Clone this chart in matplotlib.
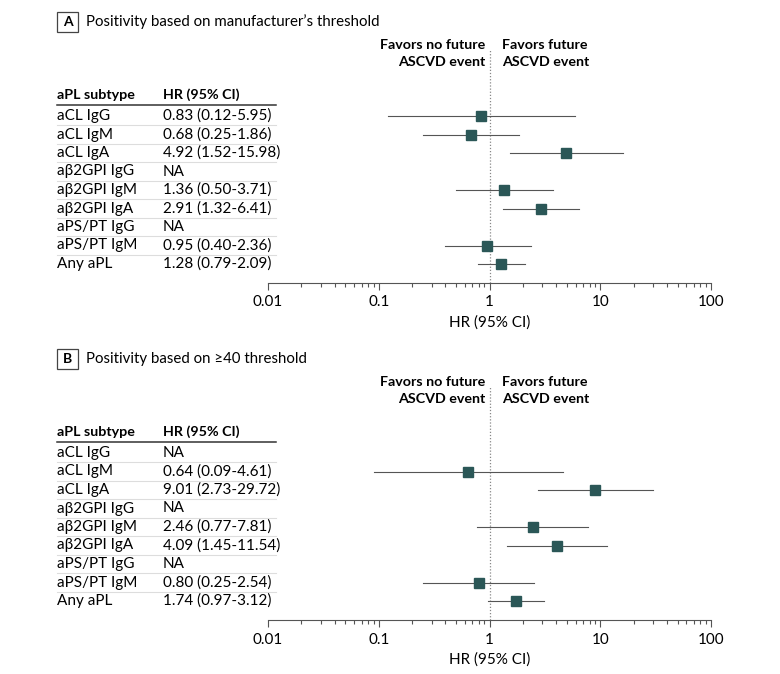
import matplotlib
matplotlib.use("Agg")
import matplotlib.pyplot as plt
import matplotlib.transforms as mtransforms
from matplotlib.patches import Rectangle
import numpy as np

plt.rcParams['font.family'] = ['Lato', 'DejaVu Sans']

subtypes = ["aCL IgG", "aCL IgM", "aCL IgA", "aβ2GPI IgG", "aβ2GPI IgM",
            "aβ2GPI IgA", "aPS/PT IgG", "aPS/PT IgM", "Any aPL"]

# panel A: manufacturer's threshold
hr_a = [0.83, 0.68, 4.92, None, 1.36, 2.91, None, 0.95, 1.28]
lo_a = [0.12, 0.25, 1.52, None, 0.50, 1.32, None, 0.40, 0.79]
hi_a = [5.95, 1.86, 15.98, None, 3.71, 6.41, None, 2.36, 2.09]

# panel B: >=40 threshold
hr_b = [None, 0.64, 9.01, None, 2.46, 4.09, None, 0.80, 1.74]
lo_b = [None, 0.09, 2.73, None, 0.77, 1.45, None, 0.25, 0.97]
hi_b = [None, 4.61, 29.72, None, 7.81, 11.54, None, 2.54, 3.12]

titles = ["Positivity based on manufacturer’s threshold",
          "Positivity based on ≥40 threshold"]
letters = ["A", "B"]

W, H = 780, 674
fig = plt.figure(figsize=(7.8, 6.74), dpi=100)

marker_col = "#2b5757"
line_col = "#555555"
row_px = 18.5
fs = 11
fsb = 10.3


def fy(px):
    return 1 - px / H


def panel(offset, letter, title, hr, lo, hi):
    row0 = 116 + offset
    top = 50 + offset
    axis_y = 283 + offset
    n = len(subtypes)
    ax = fig.add_axes([268 / W, fy(axis_y), (711 - 268) / W, (axis_y - top) / H])
    ax.set_xscale("log")
    ax.set_xlim(0.01, 100)
    ax.set_ylim((axis_y - row0) / row_px, (top - row0) / row_px)
    for s in ["top", "left", "right"]:
        ax.spines[s].set_visible(False)
    ax.spines["bottom"].set_color("#555555")
    ax.spines["bottom"].set_linewidth(0.8)
    ax.set_yticks([])
    ax.set_xticks([0.01, 0.1, 1, 10, 100])
    ax.set_xticklabels(["0.01", "0.1", "1", "10", "100"])
    ax.tick_params(axis="x", which="major", length=5, width=0.8, color="#555555",
                   labelsize=fs, pad=4)
    ax.tick_params(axis="x", which="minor", length=3, width=0.8, color="#555555")
    ax.set_xlabel("HR (95% CI)", fontsize=fs, labelpad=4)
    ax.patch.set_visible(False)

    ax.axvline(1, color="#888888", lw=0.9, ls=(0, (1, 1.5)), zorder=1)

    for i in range(n):
        if hr[i] is None:
            continue
        ax.plot([lo[i], hi[i]], [i, i], color=line_col, lw=0.8, zorder=2)
        ax.plot(hr[i], i, marker="s", ms=6.5, color=marker_col, zorder=3)

    # favors labels
    y1 = (45 + offset - row0) / row_px
    y2 = (62 + offset - row0) / row_px
    for x, ha, a, b in [(0.91, "right", "Favors no future", "ASCVD event"),
                        (1.3, "left", "Favors future", "ASCVD event")]:
        ax.text(x, y1, a, ha=ha, va="center", fontsize=fsb, fontweight="bold", clip_on=False)
        ax.text(x, y2, b, ha=ha, va="center", fontsize=fsb, fontweight="bold", clip_on=False)

    # table
    tr = mtransforms.blended_transform_factory(fig.transFigure, ax.transData)
    hdr = (95 + offset - row0) / row_px
    ax.text(57 / W, hdr, "aPL subtype", transform=tr, ha="left", va="center",
            fontsize=fsb, fontweight="bold")
    ax.text(163 / W, hdr, "HR (95% CI)", transform=tr, ha="left", va="center",
            fontsize=fsb, fontweight="bold")
    ax.plot([57 / W, 276 / W], [(104.5 + offset - row0) / row_px] * 2, transform=tr,
            color="#333333", lw=1.1, clip_on=False)
    for i in range(n):
        ax.text(57 / W, i, subtypes[i], transform=tr, ha="left", va="center", fontsize=fs)
        if hr[i] is None:
            lab = "NA"
        else:
            lab = "%.2f (%.2f-%.2f)" % (hr[i], lo[i], hi[i])
        ax.text(163 / W, i, lab, transform=tr, ha="left", va="center", fontsize=fs)
        if i < n - 1:
            ax.plot([57 / W, 276 / W], [i + 0.5, i + 0.5], transform=tr,
                    color="#dddddd", lw=0.8, clip_on=False)

    # panel letter box and title
    fig.patches.append(Rectangle((57 / W, fy(32 + offset)), 21 / W, 20 / H,
                                 transform=fig.transFigure, fill=False,
                                 edgecolor="#444444", lw=0.9))
    fig.text(67.5 / W, fy(22 + offset), letter, ha="center", va="center",
             fontsize=10, fontweight="bold")
    fig.text(86 / W, fy(22 + offset), title, ha="left", va="center", fontsize=10.8)


panel(0, letters[0], titles[0], hr_a, lo_a, hi_a)
panel(337, letters[1], titles[1], hr_b, lo_b, hi_b)

fig.savefig("out.png", dpi=100)
